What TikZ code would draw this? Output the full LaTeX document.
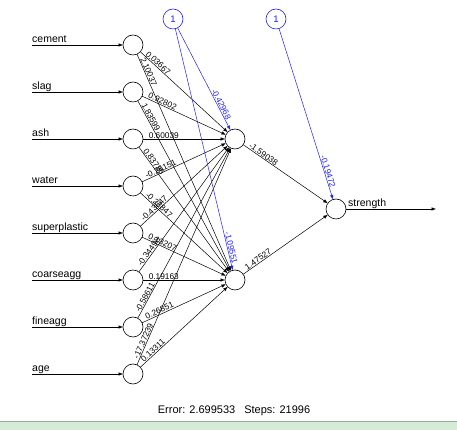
\documentclass[tikz,border=0pt]{standalone}
\usepackage{fontspec}
\setmainfont{Liberation Sans}
\usetikzlibrary{positioning}
\usetikzlibrary{calc}
\usetikzlibrary{arrows.meta}
\definecolor{biasblue}{RGB}{30,30,255}
\definecolor{stripgreen}{RGB}{214,235,213}
\definecolor{stripedge}{RGB}{150,175,150}

\begin{document}
\begin{tikzpicture}[
x=1pt, y=1pt,
node distance=27pt,
neuron/.style={circle, draw=black, fill=white, line width=0.6pt, minimum size=20pt, inner sep=0, outer sep=0},
biasnode/.style={neuron, draw=biasblue, text=biasblue, font=\fontsize{9.5}{10}\selectfont},
conn/.style={line width=0.5pt, -{Latex[length=4.5pt,width=3.5pt]}},
biasconn/.style={conn, draw=biasblue},
wlab/.style={pos=0, sloped, anchor=south west, inner sep=0.6pt, font=\fontsize{8.3}{9}\selectfont},
blab/.style={wlab, pos=1, anchor=south east, text=biasblue},
inlab/.style={anchor=base west, inner sep=0, yshift=2pt, font=\fontsize{10.5}{12}\selectfont}
]
\useasboundingbox (0,0) rectangle (457,430);
\fill[stripgreen] (0,0) rectangle (457,9);
\draw[stripedge, line width=0.6pt] (0,9) -- (457,9);

% input layer
\node[neuron] (i1) at (133,385) {};
\node[neuron, below=of i1] (i2) {};
\node[neuron, below=of i2] (i3) {};
\node[neuron, below=of i3] (i4) {};
\node[neuron, below=of i4] (i5) {};
\node[neuron, below=of i5] (i6) {};
\node[neuron, below=of i6] (i7) {};
\node[neuron, below=of i7] (i8) {};

% hidden, output and bias
\node[neuron, right=82pt of i3] (h1) {};
\node[neuron, right=82pt of i6] (h2) {};
\node[neuron] (o) at (336,221) {};
\node[biasnode] (b1) at (173,411) {1};
\node[biasnode, right=83pt of b1] (b2) {1};

% input names
\coordinate (s1) at (32,385);
\coordinate (s2) at ($(s1)+(0,-47)$);
\coordinate (s3) at ($(s2)+(0,-47)$);
\coordinate (s4) at ($(s3)+(0,-47)$);
\coordinate (s5) at ($(s4)+(0,-47)$);
\coordinate (s6) at ($(s5)+(0,-47)$);
\coordinate (s7) at ($(s6)+(0,-47)$);
\coordinate (s8) at ($(s7)+(0,-47)$);
\node[inlab] (t1) at (s1) {cement};
\node[inlab] (t2) at (s2) {slag};
\node[inlab] (t3) at (s3) {ash};
\node[inlab] (t4) at (s4) {water};
\node[inlab] (t5) at (s5) {superplastic};
\node[inlab] (t6) at (s6) {coarseagg};
\node[inlab] (t7) at (s7) {fineagg};
\node[inlab] (t8) at (s8) {age};
\draw[conn] (s1) -- (i1);
\draw[conn] (s2) -- (i2);
\draw[conn] (s3) -- (i3);
\draw[conn] (s4) -- (i4);
\draw[conn] (s5) -- (i5);
\draw[conn] (s6) -- (i6);
\draw[conn] (s7) -- (i7);
\draw[conn] (s8) -- (i8);

% weights into the hidden layer
\draw[conn] (i1) -- (h1);
\draw[conn] (i1) -- (h2);
\draw[conn] (i2) -- (h1);
\draw[conn] (i2) -- (h2);
\draw[conn] (i3) -- (h1);
\draw[conn] (i3) -- (h2);
\draw[conn] (i4) -- (h1);
\draw[conn] (i4) -- (h2);
\draw[conn] (i5) -- (h1);
\draw[conn] (i5) -- (h2);
\draw[conn] (i6) -- (h1);
\draw[conn] (i6) -- (h2);
\draw[conn] (i7) -- (h1);
\draw[conn] (i7) -- (h2);
\draw[conn] (i8) -- (h1);
\draw[conn] (i8) -- (h2);
\path ($(i1)!15pt!(h1)$) -- (h1) node[wlab] {0.03667};
\path ($(i1)!15pt!(h2)$) -- (h2) node[wlab] {2.10037};
\path ($(i2)!15pt!(h1)$) -- (h1) node[wlab] {0.92802};
\path ($(i2)!15pt!(h2)$) -- (h2) node[wlab] {1.83599};
\path ($(i3)!15pt!(h1)$) -- (h1) node[wlab] {0.60039};
\path ($(i3)!15pt!(h2)$) -- (h2) node[wlab] {0.83786};
\path ($(i4)!15pt!(h1)$) -- (h1) node[wlab] {-0.26151};
\path ($(i4)!15pt!(h2)$) -- (h2) node[wlab] {-0.22847};
\path ($(i5)!15pt!(h1)$) -- (h1) node[wlab] {-0.43647};
\path ($(i5)!15pt!(h2)$) -- (h2) node[wlab] {0.13207};
\path ($(i6)!15pt!(h1)$) -- (h1) node[wlab] {-0.34498};
\path ($(i6)!15pt!(h2)$) -- (h2) node[wlab] {0.19163};
\path ($(i7)!15pt!(h1)$) -- (h1) node[wlab] {-0.58611};
\path ($(i7)!15pt!(h2)$) -- (h2) node[wlab] {0.26851};
\path ($(i8)!15pt!(h1)$) -- (h1) node[wlab] {-17.37239};
\path ($(i8)!15pt!(h2)$) -- (h2) node[wlab] {0.13311};

% bias weights
\draw[biasconn] (b1) -- (h1);
\draw[biasconn] (b1) -- (h2);
\draw[biasconn] (b2) -- (o);
\path (b1) -- ($(h1)!20pt!(b1)$) node[blab] {-0.42968};
\path (b1) -- ($(h2)!15pt!(b1)$) node[blab] {-1.09551};
\path (b2) -- ($(o)!21pt!(b2)$) node[blab] {-0.19472};

% hidden to output
\draw[conn] (h1) -- (o);
\draw[conn] (h2) -- (o);
\path ($(h1)!15pt!(o)$) -- (o) node[wlab] {-1.59038};
\path ($(h2)!15pt!(o)$) -- (o) node[wlab] {1.47527};

\coordinate (oe) at (436,221);
\draw[conn] (o) -- (oe);
\node[inlab] (tout) at (348,221) {strength};

\node[font=\fontsize{11}{12}\selectfont] (err) at (234,19) {Error: 2.699533\hspace{9pt}Steps: 21996};
\end{tikzpicture}
\end{document}
